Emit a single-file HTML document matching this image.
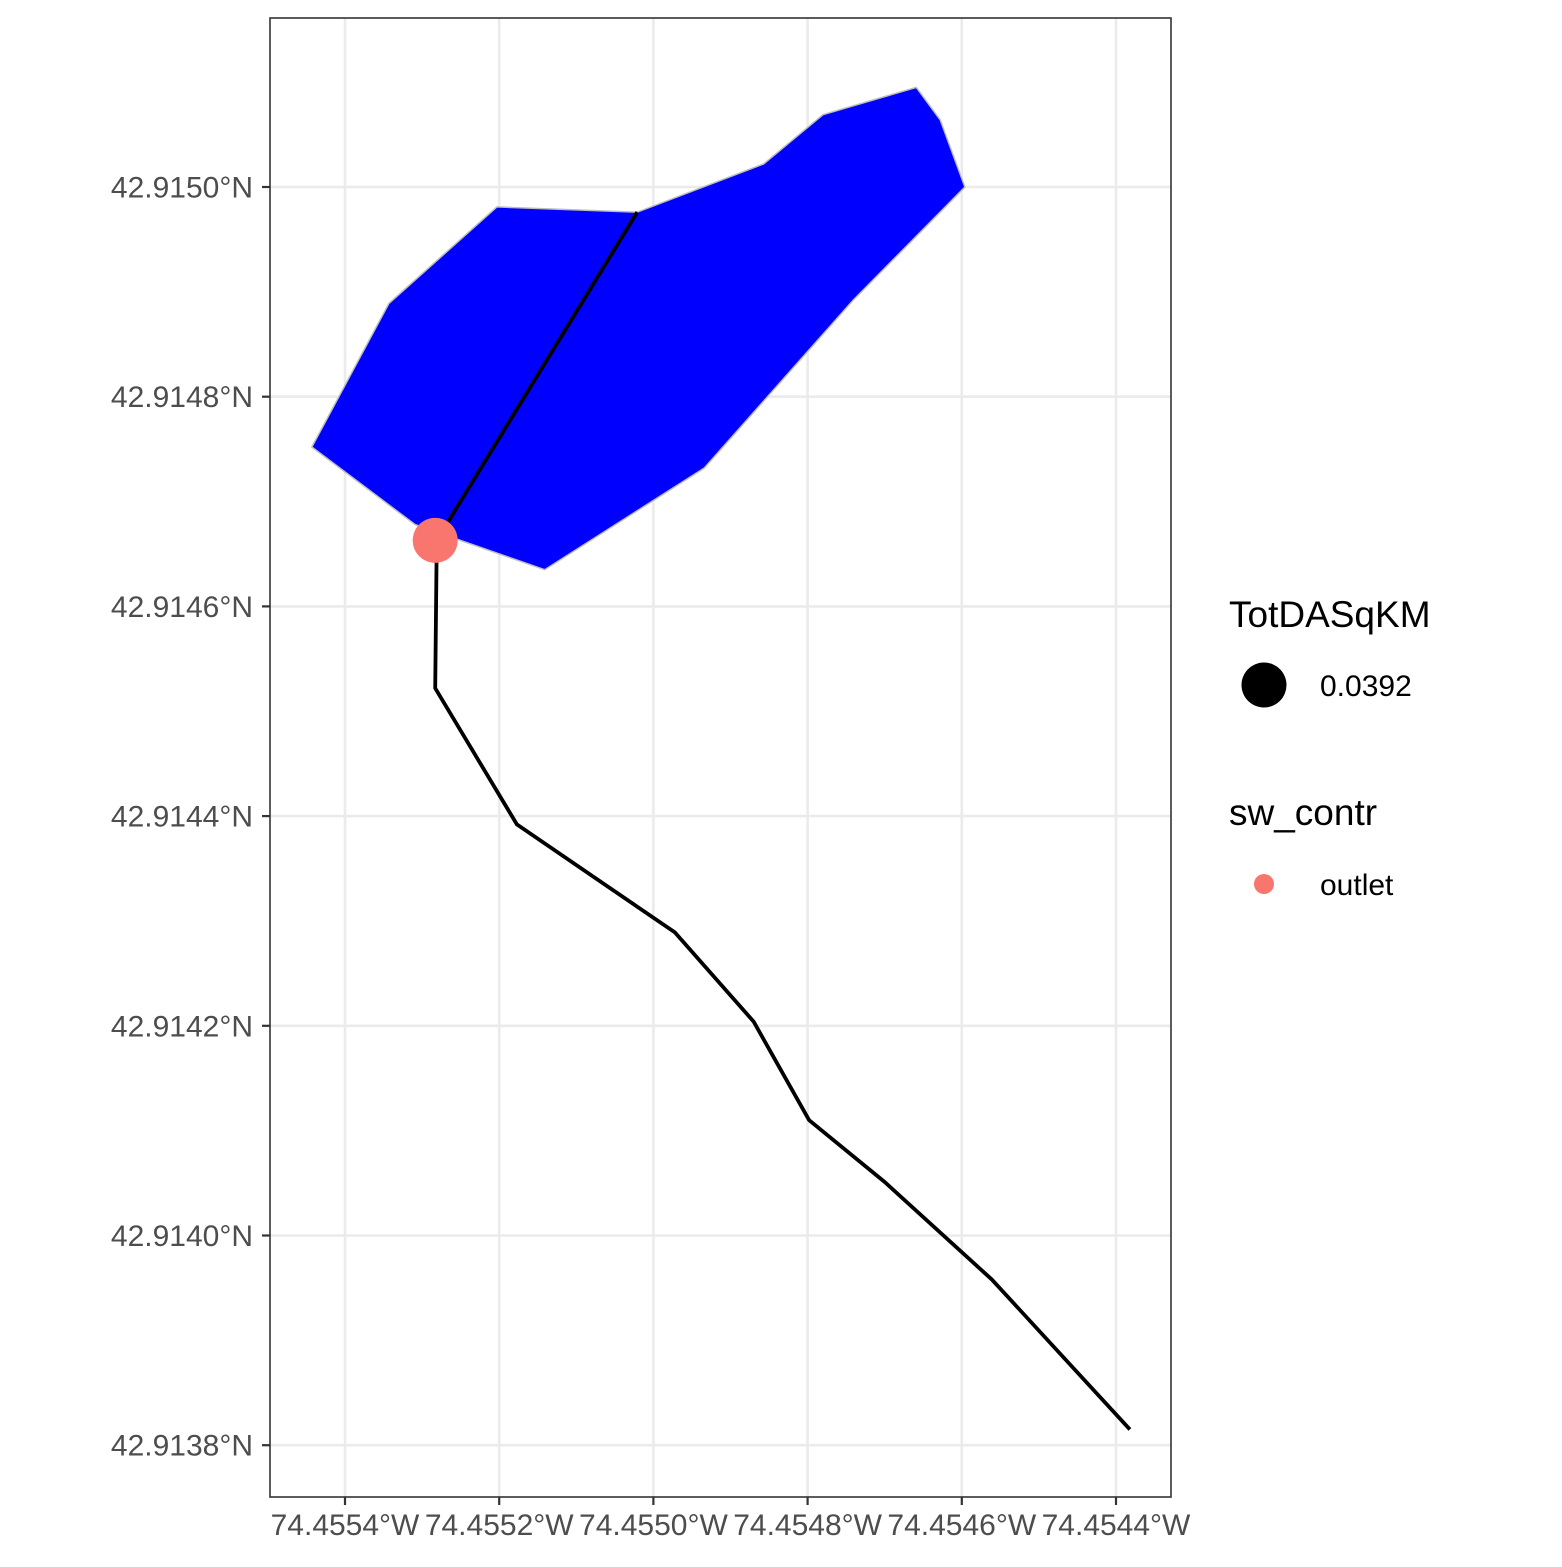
<!DOCTYPE html>
<html><head><meta charset="utf-8"><style>
body{margin:0;background:#fff}
svg text{font-family:"Liberation Sans",Arial,sans-serif}
</style></head><body>
<svg id="c" width="1562" height="1562" xmlns="http://www.w3.org/2000/svg"></svg>
<script>
const xTicks=[-74.4554,-74.4552,-74.4550,-74.4548,-74.4546,-74.4544];
const xTickLabels=["74.4554°W","74.4552°W","74.4550°W","74.4548°W","74.4546°W","74.4544°W"];
const yTicks=[42.9150,42.9148,42.9146,42.9144,42.9142,42.9140,42.9138];
const yTickLabels=["42.9150°N","42.9148°N","42.9146°N","42.9144°N","42.9142°N","42.9140°N","42.9138°N"];
const basinLon=[-74.455443,-74.455343,-74.455203,-74.455021,-74.454857,-74.454780,-74.454659,-74.454628,-74.454596,-74.454741,-74.454934,-74.455141,-74.455309];
const basinLat=[42.914752,42.914889,42.914981,42.914976,42.915022,42.915069,42.915095,42.915064,42.915000,42.914892,42.914732,42.914635,42.914678];
const flow1Lon=[-74.455021,-74.455281];
const flow1Lat=[42.914976,42.914663];
const flow2Lon=[-74.455281,-74.455283,-74.455177,-74.454972,-74.454870,-74.454798,-74.454700,-74.454561,-74.454382];
const flow2Lat=[42.914663,42.914522,42.914392,42.914289,42.914204,42.914110,42.914051,42.913958,42.913815];
const outletLon=[-74.455283];
const outletLat=[42.914663];

const X0=270,X1=1171,Y0=18,Y1=1497;
const sx=v=>345+(v-(-74.4554))/0.0002*154.2;
const sy=v=>187+(42.9150-v)/0.0002*209.7;
const NS="http://www.w3.org/2000/svg";
const svg=document.getElementById('c');
function mk(t,a,p){const e=document.createElementNS(NS,t);for(const k in a)e.setAttribute(k,a[k]);(p||svg).appendChild(e);return e;}

const bg=mk('rect',{x:X0,y:Y0,width:X1-X0,height:Y1-Y0,fill:'#fff'});


xTicks.forEach((v,i)=>{
  const g=mk('line',{x1:sx(v),x2:sx(v),y1:Y0,y2:Y1,stroke:'#ebebeb','stroke-width':2.6});
  
  
  const t=mk('line',{x1:sx(v),x2:sx(v),y1:Y1,y2:Y1+8,stroke:'#333','stroke-width':2.2});
  
  
  const l=mk('text',{x:sx(v),y:1535,'text-anchor':'middle','font-size':30,fill:'#4d4d4d'});
  l.textContent=xTickLabels[i];
  
  
});
yTicks.forEach((v,i)=>{
  const g=mk('line',{x1:X0,x2:X1,y1:sy(v),y2:sy(v),stroke:'#ebebeb','stroke-width':2.6});
  
  
  const t=mk('line',{x1:X0-8,x2:X0,y1:sy(v),y2:sy(v),stroke:'#333','stroke-width':2.2});
  
  
  const l=mk('text',{x:253,y:sy(v)+10.5,'text-anchor':'end','font-size':30,fill:'#4d4d4d'});
  l.textContent=yTickLabels[i];
  
  
});
const poly=mk('polygon',{points:basinLon.map((v,i)=>sx(v)+','+sy(basinLat[i])).join(' '),fill:'#0000ff',stroke:'#bdbdbd','stroke-width':1.5});


[[flow1Lon,flow1Lat,'flowline-upstream'],[flow2Lon,flow2Lat,'flowline-downstream']].forEach(([lo,la,n])=>{
  const p=mk('polyline',{points:lo.map((v,i)=>sx(v)+','+sy(la[i])).join(' '),fill:'none',stroke:'#000','stroke-width':3.8,'stroke-linejoin':'round'});
  
  
});
outletLon.forEach((v,i)=>{
  const c=mk('circle',{cx:sx(v),cy:sy(outletLat[i]),r:22.5,fill:'#F8766D'});
  
  
});
const fr=mk('rect',{x:X0,y:Y0,width:X1-X0,height:Y1-Y0,fill:'none',stroke:'#333','stroke-width':1.6});



function txt(x,y,s,fs,n){const t=mk('text',{x:x,y:y,'font-size':fs,fill:'#000'});t.textContent=s;return t;}
txt(1229,627,'TotDASqKM',37,'legend-title-size');
const lc=mk('circle',{cx:1264,cy:685,r:22.5,fill:'#000'});


txt(1320,696,'0.0392',30,'legend-size-label');
txt(1229,825,'sw_contr',37,'legend-title-color');
const lc2=mk('circle',{cx:1264,cy:884,r:10,fill:'#F8766D'});


txt(1320,895,'outlet',30,'legend-color-label');
</script>
</body></html>
